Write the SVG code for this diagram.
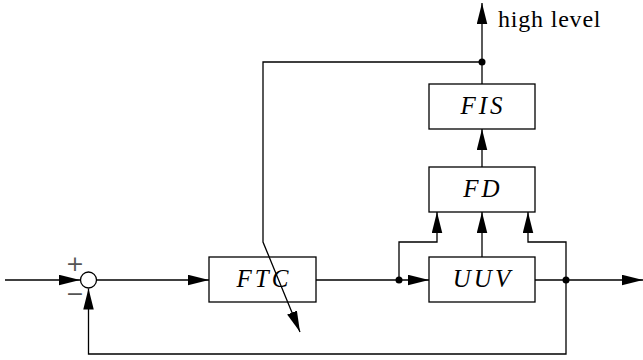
<svg xmlns="http://www.w3.org/2000/svg" width="643" height="360" viewBox="0 0 643 360">
<style>
.ln{fill:none;stroke:#000;stroke-width:1.3}
.bx{fill:#fff;stroke:#000;stroke-width:1.3}
.lb{font-family:"Liberation Serif","DejaVu Serif",serif;font-style:italic;font-size:25px;text-anchor:middle;letter-spacing:3px}
.tx{font-family:"Liberation Serif","DejaVu Serif",serif;font-size:24px}
.sg{font-family:"DejaVu Sans",sans-serif;font-size:22px;text-anchor:middle;fill:#555}
.dot{fill:#000}
</style>
<defs>
<marker id="ah" markerUnits="userSpaceOnUse" markerWidth="21" markerHeight="11" refX="20" refY="5" orient="auto" viewBox="0 0 20 10">
<path d="M0,0 L20,5 L0,10 z" fill="#000"/>
</marker>
</defs>
<g id="sum">
<circle cx="88.5" cy="280" r="8" fill="#fff" stroke="#000" stroke-width="1.3"/>
<text class="sg" x="75" y="271">+</text>
<text class="sg" x="75" y="301">−</text>
</g>
<g id="FTC">
<rect class="bx" x="209" y="257" width="107" height="45"/>
<text class="lb" x="264" y="287">FTC</text>
</g>
<g id="UUV">
<rect class="bx" x="429" y="257" width="106" height="45"/>
<text class="lb" x="483" y="287">UUV</text>
</g>
<g id="FD">
<rect class="bx" x="429" y="167" width="106" height="45"/>
<text class="lb" x="483" y="197">FD</text>
</g>
<g id="FIS">
<rect class="bx" x="429" y="84" width="106" height="45"/>
<text class="lb" x="483" y="114">FIS</text>
</g>
<g id="highlevel">
<text class="tx" x="498" y="27" letter-spacing="0.8">high level</text>
</g>
<g id="connectors">
<path class="ln" d="M5,280 H80" marker-end="url(#ah)"/>
<path class="ln" d="M97,280 H209" marker-end="url(#ah)"/>
<path class="ln" d="M316,280 H399 H429" marker-end="url(#ah)"/>
<path class="ln" d="M535,280 H643" marker-end="url(#ah)"/>
<path class="ln" d="M566,280 V354 H88.5 V288.5" marker-end="url(#ah)"/>
<path class="ln" d="M399,280 V242 H437 V212" marker-end="url(#ah)"/>
<path class="ln" d="M566,280 V242 H528 V212" marker-end="url(#ah)"/>
<path class="ln" d="M482,257 V212" marker-end="url(#ah)"/>
<path class="ln" d="M482,167 V129" marker-end="url(#ah)"/>
<path class="ln" d="M482,84 V3" marker-end="url(#ah)"/>
<path class="ln" d="M482,62 H263 V242 L300,332" marker-end="url(#ah)"/>
<circle class="dot" cx="399" cy="280" r="3.5"/>
<circle class="dot" cx="566" cy="280" r="3.5"/>
<circle class="dot" cx="482" cy="62" r="3.5"/>
</g>
</svg>
